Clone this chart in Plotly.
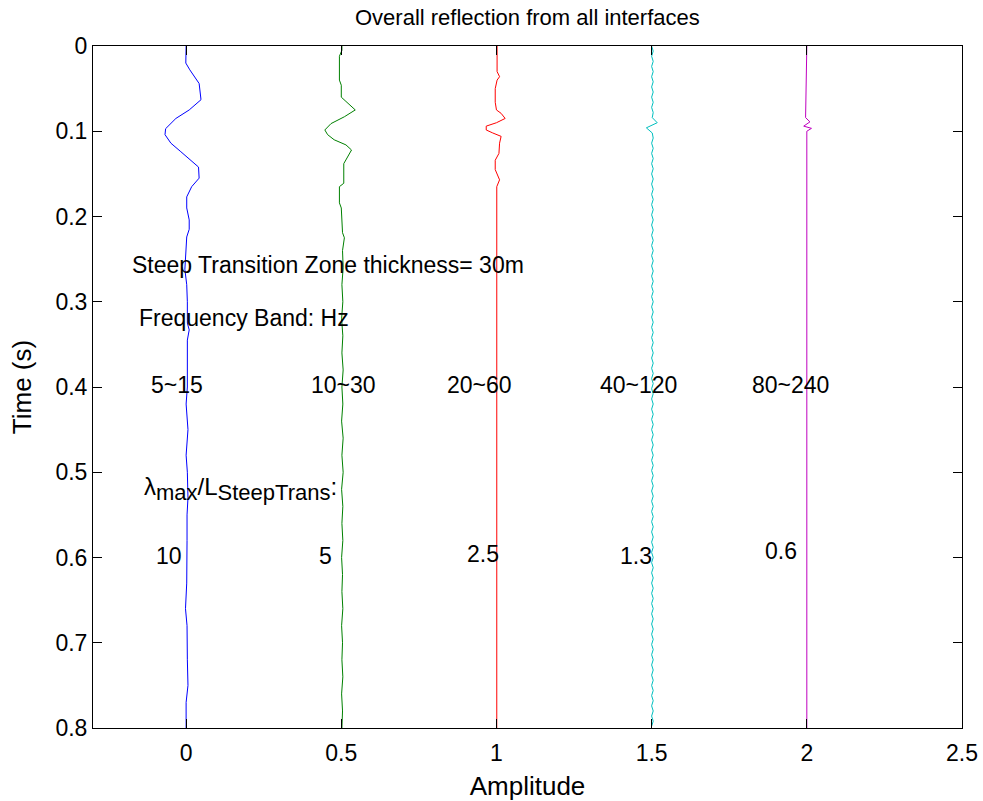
import numpy as np
import plotly.graph_objects as go

# ---------------- data ----------------
offsets = [0, 0.5, 1.0, 1.5, 2.0]
colors = ["#0000FF", "#008000", "#FF0000", "#00BFBF", "#BF00BF"]

blue_t = [0, 0.020, 0.028, 0.044, 0.063, 0.075, 0.085, 0.097, 0.104, 0.114,
          0.124, 0.142, 0.155, 0.165, 0.177, 0.190, 0.204, 0.215, 0.224, 0.24,
          0.255, 0.262, 0.28, 0.30, 0.325, 0.333, 0.345, 0.36, 0.40, 0.42,
          0.45, 0.48, 0.50, 0.53, 0.55, 0.58, 0.60, 0.63, 0.66, 0.68,
          0.72, 0.75, 0.77, 0.80]
blue_a = [0, -0.001, 0.012, 0.042, 0.048, 0.010, -0.033, -0.066, -0.068, -0.049,
          -0.017, 0.040, 0.042, 0.018, 0.002, 0.002, 0.010, 0.010, 0.002, 0.0,
          -0.004, -0.004, 0.002, 0.004, 0.004, 0.010, 0.004, 0.004, 0.004, 0.0,
          0.006, 0.0, 0.004, 0.006, 0.003, 0.003, 0.003, 0.002, -0.002, 0.003,
          0.004, 0.006, 0.0, 0.0]

green_t = [0, 0.005, 0.012, 0.040, 0.046, 0.060, 0.065, 0.075, 0.083, 0.091,
           0.0985, 0.104, 0.110, 0.116, 0.122, 0.130, 0.138, 0.161, 0.165, 0.184,
           0.190, 0.219, 0.225, 0.24, 0.26, 0.28, 0.30, 0.32, 0.34, 0.36,
           0.38, 0.40, 0.42, 0.44, 0.46, 0.48, 0.50, 0.52, 0.54, 0.56,
           0.58, 0.60, 0.62, 0.64, 0.66, 0.68, 0.70, 0.72, 0.74, 0.76,
           0.78, 0.80]
green_a = [0.002, 0.002, -0.006, -0.006, 0, 0, 0.015, 0.045, 0.010, -0.033,
           -0.053, -0.044, -0.023, 0.015, 0.033, 0.020, 0.008, 0.008, -0.006, -0.006,
           0, 0.004, 0.010, 0.004, 0.006, 0.002, 0.005, 0.001, 0.005, 0.002,
           0.006, 0.002, 0.005, 0.001, 0.006, 0.002, 0.006, 0.001, 0.005, 0.002,
           0.005, 0.001, 0.004, 0.002, 0.005, 0.001, 0.004, 0.002, 0.005, 0.001,
           0.004, 0.002]

red_t = [0, 0.030, 0.036, 0.040, 0.050, 0.066, 0.075, 0.079, 0.085, 0.090,
         0.094, 0.0985, 0.102, 0.106, 0.114, 0.126, 0.134, 0.145, 0.157, 0.165,
         0.80]
red_a = [0.002, 0.002, 0.010, 0.002, -0.004, -0.004, 0.0, 0.015, 0.028, 0.0,
         -0.033, -0.033, -0.012, 0.015, 0.010, 0.008, -0.004, -0.004, 0.010, 0.001,
         0.001]

cyan_t = [round(0.006 * i, 3) for i in range(134)]
cyan_a = [0, 0.005, 0, 0.005, 0, 0.005, 0, 0.005, 0, 0.005,
          0, 0.005, 0, 0.005, 0.002, 0.018, -0.017, 0.002, 0.005, 0,
          0.005, 0, 0.005, 0, 0.005, 0, 0.005, 0, 0.005, 0,
          0.005, 0, 0.005, 0, 0.005, 0, 0.005, 0, 0.005, 0,
          0.005, 0, 0.005, 0, 0.005, 0, 0.005, 0, 0.005, 0,
          0.005, 0, 0.005, 0, 0.005, 0, 0.005, 0, 0.005, 0,
          0.005, 0, 0.005, 0, 0.005, 0, 0.005, 0, 0.005, 0,
          0.005, 0, 0.005, 0, 0.005, 0, 0.005, 0, 0.005, 0,
          0.005, 0, 0.005, 0, 0.005, 0, 0.005, 0, 0.005, 0,
          0.005, 0, 0.005, 0, 0.005, 0, 0.005, 0, 0.005, 0,
          0.005, 0, 0.005, 0, 0.005, 0, 0.005, 0, 0.005, 0,
          0.005, 0, 0.005, 0, 0.005, 0, 0.005, 0, 0.005, 0,
          0.005, 0, 0.005, 0, 0.005, 0, 0.005, 0, 0.005, 0,
          0.005, 0, 0.005, 0]

mag_t = [0, 0.084, 0.089, 0.094, 0.0966, 0.100, 0.80]
mag_a = [0, -0.004, 0.010, -0.010, 0.015, 0, 0]

band_labels = ["5~15", "10~30", "20~60", "40~120", "80~240"]
band_x = [-0.12, 0.397, 0.835, 1.326, 1.816]
band_y = 0.398

ratio_labels = ["10", "5", "2.5", "1.3", "0.6"]
ratio_x = [-0.103, 0.423, 0.897, 1.39, 1.858]
ratio_y = [0.598, 0.598, 0.596, 0.598, 0.592]

title_text = "Overall reflection from all interfaces"
thick_text = "Steep Transition Zone thickness= 30m"
freq_text = "Frequency Band: Hz"
lambda_text = ("<span style='font-size:24px'>λ</span>"
               "<sub><span style='font-size:22px'>max</span></sub>"
               "<span style='font-size:24px'>/L</span>"
               "<sub><span style='font-size:22px'>SteepTrans</span></sub>"
               "<span style='font-size:24px'>:</span>")

# ---------------- figure ----------------
FONT = "Liberation Sans, Arial, Helvetica, sans-serif"
traces_t = [blue_t, green_t, red_t, cyan_t, mag_t]
traces_a = [blue_a, green_a, red_a, cyan_a, mag_a]

fig = go.Figure()
for t, a, off, c in zip(traces_t, traces_a, offsets, colors):
    fig.add_trace(go.Scatter(x=np.array(a) + off, y=t, mode="lines",
                             line=dict(color=c, width=1), showlegend=False,
                             hoverinfo="skip"))

ann = []
tf = dict(family=FONT, size=23, color="black")
ann.append(dict(x=-0.181, y=0.257, text=thick_text, xanchor="left", yanchor="middle",
                showarrow=False, font=tf))
ann.append(dict(x=-0.158, y=0.319, text=freq_text, xanchor="left", yanchor="middle",
                showarrow=False, font=tf))
for lab, x in zip(band_labels, band_x):
    ann.append(dict(x=x, y=band_y, text=lab, xanchor="left", yanchor="middle",
                    showarrow=False, font=tf))
ann.append(dict(x=-0.142, y=0.520, text=lambda_text, xanchor="left", yanchor="middle",
                showarrow=False, font=tf))
for lab, x, y in zip(ratio_labels, ratio_x, ratio_y):
    ann.append(dict(x=x, y=y, text=lab, xanchor="left", yanchor="middle",
                    showarrow=False, font=tf))

axis_common = dict(showgrid=False, zeroline=False, showline=True, linecolor="black",
                   linewidth=1, mirror="ticks", ticks="inside", ticklen=9,
                   tickcolor="black", tickwidth=1, automargin=False,
                   tickfont=dict(family=FONT, size=23, color="black"))

fig.update_layout(
    width=983, height=801,
    margin=dict(l=93, r=21, t=46, b=73),
    paper_bgcolor="white", plot_bgcolor="white",
    title=dict(text=title_text, x=0.5365, xanchor="center", y=0.979, yanchor="middle",
               yref="container", font=dict(family=FONT, size=22, color="black")),
    xaxis=dict(range=[-0.3, 2.5], tick0=0, dtick=0.5, ticklabelstandoff=4,
               title=dict(text="Amplitude", standoff=16,
                          font=dict(family=FONT, size=26, color="black")),
               **axis_common),
    yaxis=dict(range=[0.8, 0], tick0=0, dtick=0.1,
               title=dict(text="Time (s)", standoff=16,
                          font=dict(family=FONT, size=26, color="black")),
               **axis_common),
    annotations=ann,
)

fig.write_html("out.html")
